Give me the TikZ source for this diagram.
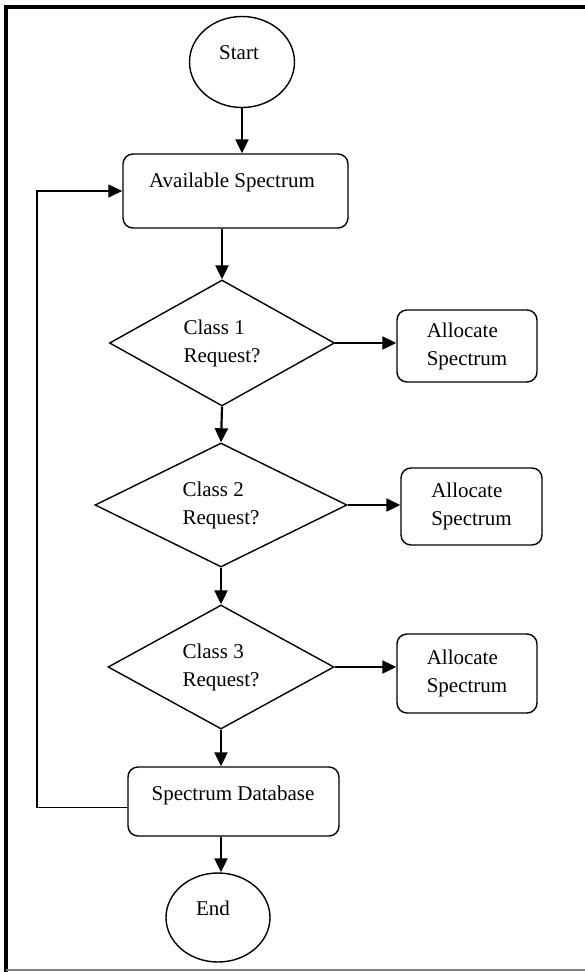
\documentclass[tikz,border=0pt]{standalone}
\usepackage{fontspec}
\setmainfont{Liberation Serif}
\usetikzlibrary{shapes,arrows.meta,positioning,calc}

\begin{document}
\begin{tikzpicture}[
		x=1pt,y=-1pt,
		every node/.style={font=\fontsize{21}{28}\selectfont},
		term/.style={ellipse,draw,line width=1.4pt,inner sep=0pt},
		proc/.style={rectangle,rounded corners=10pt,draw,line width=1.4pt,inner sep=0pt},
		decide/.style={diamond,draw,line width=1.4pt,inner sep=0pt,align=left},
		txt/.style={inner sep=0pt},
		flow/.style={line width=2.2pt,-{Triangle[length=14pt,width=13pt]}},
		back/.style={line width=1.3pt,-{Triangle[length=14pt,width=13pt]}},
	]
	\useasboundingbox (0,0) rectangle (585,972);

	% frame
	\draw[line width=4pt] (6,972) -- (6,7) -- (585,7);
	\draw[gray,line width=1.5pt] (6,970) -- (585,970);

	% shapes
	\node[term,minimum width=105,minimum height=91] (start) at (242,62) {};
	\node[proc,minimum width=225,minimum height=74] (avail) at (235.5,191) {};
	\node[decide,minimum width=225,minimum height=126] (d1) at (222,343) {Class 1\\Request?};
	\node[proc,minimum width=140,minimum height=72,align=left] (a1) at (467,346) {Allocate\\Spectrum};
	\node[decide,minimum width=252,minimum height=120] (d2) at (221,505) {Class 2\\Request?};
	\node[proc,minimum width=141,minimum height=77,align=left] (a2) at (471.5,506.5) {Allocate\\Spectrum};
	\node[decide,minimum width=226,minimum height=114] (d3) at (221,667) {Class 3\\Request?};
	\node[proc,minimum width=140,minimum height=79,align=left] (a3) at (467,673.5) {Allocate\\Spectrum};
	\node[proc,minimum width=211,minimum height=69] (db) at (233.5,801.5) {};
	\node[term,minimum width=104,minimum height=89] (end) at (218,917.5) {};

	% texts sit high in their shapes
	\node[txt] (startlbl) at (239,53) {Start};
	\node[txt] (availlbl) at (232,182) {Available Spectrum};
	\node[txt] (dblbl) at (233,795) {Spectrum Database};
	\node[txt] (endlbl) at (213,908) {End};

	% connectors
	\draw[flow] (start.south) -- (start.south |- avail.north);
	\draw[flow] (d1.north |- avail.south) -- (d1.north);
	\draw[flow] (d1.south) -- (d2.north);
	\draw[flow] (d2.south) -- (d3.north);
	\draw[flow] (d3.south) -- (d3.south |- db.north);
	\draw[flow] (d3.south |- db.south) -- (d3.south |- end.north);
	\draw[flow] (d1.east) -- (d1.east -| a1.west);
	\draw[flow] (d2.east) -- (d2.east -| a2.west);
	\draw[flow] (d3.east) -- (d3.east -| a3.west);

	\coordinate (loop) at (37,500);
	\draw[back] ([yshift=-6pt]db.west) -| (loop) |- (avail.west);

\end{tikzpicture}
\end{document}
